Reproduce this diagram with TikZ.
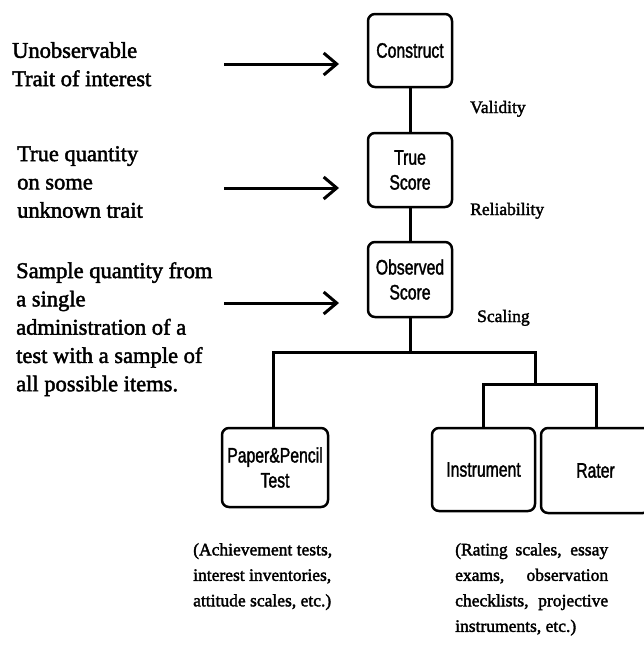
\documentclass[tikz,border=0pt]{standalone}
\usepackage{fontspec}
\setmainfont[FakeBold=1.5]{Liberation Serif}
\newfontfamily\heavyserif[FakeBold=2]{Liberation Serif}
\newfontfamily\boxfont[FakeStretch=0.75,FakeBold=1.5]{Liberation Sans}
\usetikzlibrary{arrows.meta}
\begin{document}
\begin{tikzpicture}[x=1pt,y=-1pt,
  box/.style={draw, line width=2.5pt, rounded corners=7pt, inner sep=0pt,
    font=\boxfont\fontsize{21}{25}\selectfont, align=center},
  conn/.style={line width=3pt},
  pointer/.style={line width=3pt, -{Straight Barb[length=13pt,width=22pt,line width=3pt]}},
  lefttext/.style={anchor=north west, inner sep=0pt, align=left,
    font=\heavyserif\fontsize{22.5}{28.3}\selectfont},
  bottomtext/.style={anchor=north west, inner sep=0pt, align=left,
    font=\heavyserif\fontsize{17.5}{25.5}\selectfont},
  edgelabel/.style={anchor=base west, inner sep=0pt,
    font=\heavyserif\fontsize{17.5}{21}\selectfont}]
\useasboundingbox (0,0) rectangle (644,645);
% boxes
\node[box, minimum width=84pt, minimum height=73pt] (construct) at (410,50.5) {Construct};
\node[box, minimum width=84pt, minimum height=74pt] (true) at (410,170) {True\\Score};
\node[box, minimum width=84pt, minimum height=75pt] (observed) at (410,279.5) {Observed\\Score};
\node[box, minimum width=106pt, minimum height=79pt] (paper) at (275,467.5) {Paper\&Pencil\\Test};
\node[box, minimum width=103pt, minimum height=83pt] (instrument) at (483.5,469.5) {Instrument};
\node[box, minimum width=109pt, minimum height=85pt] (rater) at (595.5,470.5) {Rater};
% junctions
\coordinate (jm) at (410,352);
\coordinate (jl) at (273,352);
\coordinate (jr) at (535,352);
\coordinate (km) at (535,384);
\coordinate (kl) at (483,384);
\coordinate (kr) at (596,384);
% connectors
\draw[conn] (construct) -- (true);
\draw[conn] (true) -- (observed);
\draw[conn] (observed) -- (jm);
\draw[conn] (jl |- paper.north) -- (jl) -- (jr) -- (km);
\draw[conn] (instrument.north -| kl) -- (kl) -- (kr) -- (rater.north -| kr);
% edge labels
\node[edgelabel] (validity) at (470,113) {Validity};
\node[edgelabel] (reliability) at (470,215) {Reliability};
\node[edgelabel] (scaling) at (477,322) {Scaling};
% left texts and arrows
\node[lefttext] (t1) at (12,42) {Unobservable\\Trait of interest};
\node[lefttext] (t2) at (17,146) {True quantity\\on some\\unknown trait};
\node[lefttext] (t3) at (16,262) {Sample quantity from\\a single\\administration of a\\test with a sample of\\all possible items.};
\coordinate (a1s) at (224,64);  \coordinate (a1e) at (339,64);
\coordinate (a2s) at (224,188); \coordinate (a2e) at (339,188);
\coordinate (a3s) at (224,303); \coordinate (a3e) at (339,303);
\draw[pointer] (a1s) -- (a1e);
\draw[pointer] (a2s) -- (a2e);
\draw[pointer] (a3s) -- (a3e);
% bottom texts
\node[bottomtext] (b1) at (193,543) {(Achievement tests,\\interest inventories,\\attitude scales, etc.)};
\node[bottomtext] (b2) at (455,543) {\makebox[153pt][s]{(Rating scales, essay}\\\makebox[153pt][s]{exams, observation}\\\makebox[153pt][s]{checklists, projective}\\instruments, etc.)};
\end{tikzpicture}
\end{document}
